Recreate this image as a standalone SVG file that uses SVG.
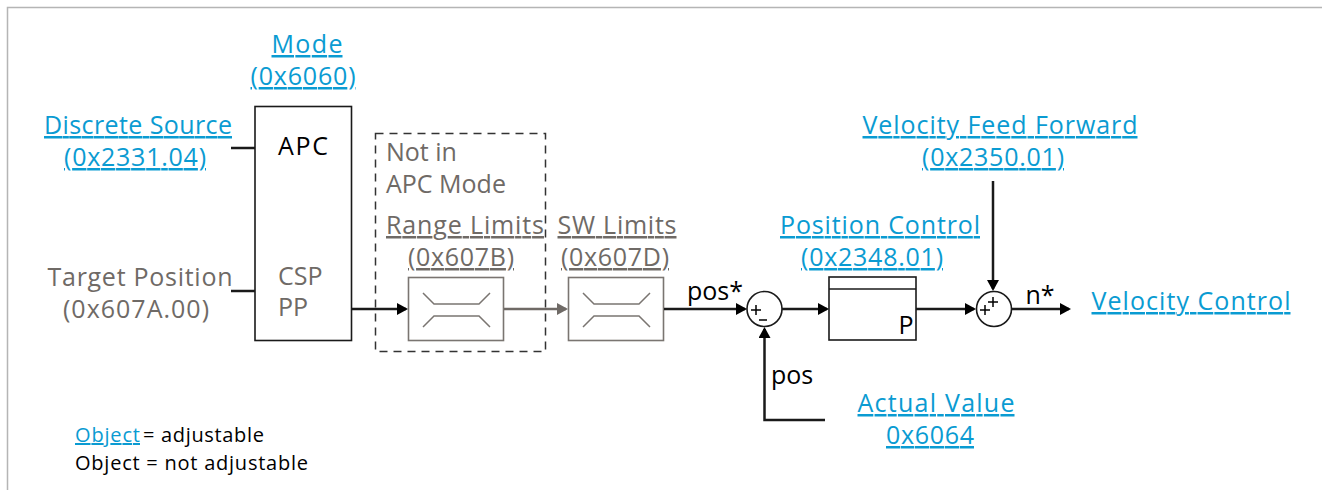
<svg xmlns="http://www.w3.org/2000/svg" width="1322" height="490" viewBox="0 0 1322 490">
<style>
text{font-family:"Open Sans","Noto Sans",sans-serif;font-size:25px;text-anchor:middle;text-decoration-skip-ink:none}
.l{fill:#0a9bd2;text-decoration:underline}
.g{fill:#6f6a66}
.gu{fill:#6f6a66;text-decoration:underline}
.k{fill:#000}
.s{font-size:20px;text-anchor:start}
.st{text-anchor:start}
.w{fill:none;stroke:#1a1a1a;stroke-width:2.5}
.wg{fill:none;stroke:#6f6a66;stroke-width:2.5}
.b{fill:#fff;stroke:#1a1a1a;stroke-width:1.6}
.lim{fill:#fff;stroke:#7a7571;stroke-width:1.6}
.sym{fill:none;stroke:#7a7571;stroke-width:1.5}
.p{fill:none;stroke:#000;stroke-width:1.5}
</style>
<defs>
<marker id="a" markerUnits="userSpaceOnUse" markerWidth="13" markerHeight="13" refX="9" refY="6" orient="auto"><path d="M0 0L11 6L0 12Z" fill="#000"/></marker>
<marker id="ag" markerUnits="userSpaceOnUse" markerWidth="13" markerHeight="13" refX="9" refY="6" orient="auto"><path d="M0 0L11 6L0 12Z" fill="#6f6a66"/></marker>
<symbol id="limit" overflow="visible"><path class="sym" d="M0 0L11 11H56L67 0M0 34L11 23H56L67 34"/></symbol>
</defs>
<path d="M7.500 490V7.500H1322" fill="none" stroke="#b5b5b5" stroke-width="1.500"/>
<g id="not-in-apc"><rect x="375.500" y="133.500" width="170" height="218" fill="none" stroke="#333" stroke-width="1.500" stroke-dasharray="8 6"/>
<text class="g st" x="386" y="161">Not in</text><text class="g st" x="386" y="193">APC Mode</text></g>
<g id="mode"><text class="l" x="307" y="53" textLength="71">Mode</text><text class="l" x="303" y="85" textLength="105">(0x6060)</text></g>
<g id="discrete-source"><text class="l" x="138" y="134" textLength="188">Discrete Source</text><text class="l" x="135" y="166" textLength="142">(0x2331.04)</text></g>
<g id="target-position"><text class="g" x="140" y="286" textLength="185">Target Position</text><text class="g" x="136" y="318" textLength="146">(0x607A.00)</text></g>
<g id="mode-block"><rect class="b" x="255" y="106.500" width="96.500" height="234"/>
<text class="k st" x="278" y="155" textLength="50">APC</text><text class="g st" x="278" y="285">CSP</text><text class="g st" x="278" y="316">PP</text></g>
<g id="range-limits"><text class="gu" x="465" y="234" textLength="158">Range Limits</text><text class="gu" x="461" y="266" textLength="106">(0x607B)</text>
<rect class="lim" x="408.500" y="277.500" width="95" height="63"/><use href="#limit" x="423" y="293"/></g>
<g id="sw-limits"><text class="gu" x="617" y="234" textLength="119">SW Limits</text><text class="gu" x="615" y="266" textLength="108">(0x607D)</text>
<rect class="lim" x="568.500" y="277.500" width="95" height="63"/><use href="#limit" x="583" y="293"/></g>
<g id="pos-star"><text class="k" x="715" y="300">pos*</text></g>
<g id="sum1"><circle cx="764.500" cy="309" r="17.500" fill="#fff" stroke="#1a1a1a" stroke-width="1.600"/>
<path class="p" d="M751 310H761M756 305V315M759 320H767"/></g>
<g id="position-control"><text class="l" x="880" y="234" textLength="200">Position Control</text><text class="l" x="872" y="266" textLength="142">(0x2348.01)</text>
<rect class="b" x="829" y="277" width="87" height="63"/><path d="M829 289H916" stroke="#1a1a1a" stroke-width="1.600"/>
<text class="k" x="906" y="334">P</text></g>
<g id="sum2"><circle cx="994" cy="309" r="17.500" fill="#fff" stroke="#1a1a1a" stroke-width="1.600"/>
<path class="p" d="M980 310H990M985 305V315M988 302H998M993 297V307"/></g>
<g id="velocity-ff"><text class="l" x="1000" y="134" textLength="275">Velocity Feed Forward</text><text class="l" x="993" y="166" textLength="142">(0x2350.01)</text></g>
<g id="n-star"><text class="k" x="1040" y="304">n*</text></g>
<g id="velocity-control"><text class="l" x="1191" y="310" textLength="199">Velocity Control</text></g>
<g id="pos"><text class="k" x="792" y="384">pos</text></g>
<g id="actual-value"><text class="l" x="936" y="412" textLength="157">Actual Value</text><text class="l" x="930" y="444" textLength="88">0x6064</text></g>
<g id="legend"><text class="l s" x="75" y="442" textLength="65">Object</text><text class="k s" x="143" y="442" textLength="121">= adjustable</text>
<text class="k s" x="75" y="470" textLength="233">Object = not adjustable</text></g>
<g id="connectors">
<path class="w" d="M231 148H255M231 291H255"/>
<path class="w" marker-end="url(#a)" d="M352 309H406"/>
<path class="wg" marker-end="url(#ag)" d="M504 309H566"/>
<path class="w" marker-end="url(#a)" d="M664 309H745"/>
<path class="w" marker-end="url(#a)" d="M782 309H827"/>
<path class="w" marker-end="url(#a)" d="M916 309H974"/>
<path class="w" marker-end="url(#a)" d="M1012 309H1069"/>
<path class="w" marker-end="url(#a)" d="M993 181V289"/>
<path class="w" marker-end="url(#a)" d="M825 420H764.500V329"/>
</g>
</svg>
